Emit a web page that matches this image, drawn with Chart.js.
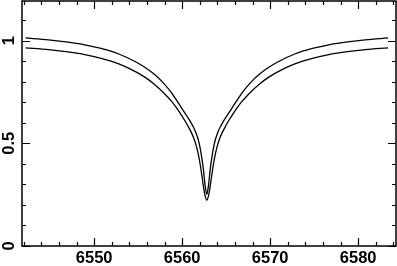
<!DOCTYPE html>
<html><head><meta charset="utf-8">
<script src="https://cdn.jsdelivr.net/npm/chart.js@4/dist/chart.umd.min.js"></script>
<style>html,body{margin:0;padding:0;background:#fff;} canvas{display:block}</style>
</head><body>
<canvas id="c" width="397" height="266"></canvas>
<script>
// Wavelength samples (Angstrom)
const wavelength = [6542.2, 6544.8, 6546.8, 6548.8, 6550.8, 6552.8, 6554.8, 6555.8, 6556.8, 6557.8,
  6558.8, 6559.3, 6559.8, 6560.3, 6560.8, 6561.05, 6561.3, 6561.55, 6561.8, 6562.0, 6562.2, 6562.4, 6562.6,
  6562.8,
  6563.0, 6563.2, 6563.4, 6563.6, 6563.8, 6564.05, 6564.3, 6564.55, 6564.8, 6565.3, 6565.8, 6566.3, 6566.8,
  6567.8, 6568.8, 6569.8, 6570.8, 6572.8, 6574.8, 6576.8, 6578.8, 6580.8, 6583.4];
// Lower / outer profile
const fluxLower = [0.965, 0.956, 0.946, 0.933, 0.914, 0.887, 0.847, 0.821, 0.789, 0.750,
  0.704, 0.676, 0.645, 0.611, 0.573, 0.552, 0.527, 0.496, 0.453, 0.409, 0.355, 0.295, 0.245,
  0.223,
  0.245, 0.295, 0.355, 0.409, 0.453, 0.496, 0.527, 0.552, 0.573, 0.611, 0.645, 0.676, 0.704,
  0.750, 0.789, 0.821, 0.847, 0.887, 0.914, 0.933, 0.946, 0.956, 0.965];
// Upper / inner profile
const fluxUpper = [1.013, 1.004, 0.994, 0.981, 0.962, 0.935, 0.895, 0.869, 0.837, 0.797,
  0.746, 0.714, 0.681, 0.648, 0.615, 0.597, 0.577, 0.553, 0.522, 0.486, 0.438, 0.378, 0.298,
  0.252,
  0.298, 0.378, 0.438, 0.486, 0.522, 0.553, 0.577, 0.597, 0.615, 0.648, 0.681, 0.714, 0.746,
  0.797, 0.837, 0.869, 0.895, 0.935, 0.962, 0.981, 0.994, 1.004, 1.013];
const xTickLabels = [6550, 6560, 6570, 6580];
const yTickLabels = [0, 0.5, 1];
const xMinorStep = 2;
const yMinorStep = 0.1;

const tickFont = {family: "'Liberation Sans', Arial, Helvetica, sans-serif", size: 16.5, weight: 'bold'};

const frameTicks = {
  id: 'frameTicks',
  afterDraw(chart) {
    const {ctx, chartArea: a, scales: {x, y}} = chart;
    ctx.save();
    ctx.strokeStyle = '#000';
    ctx.lineWidth = 1.2;
    ctx.beginPath();
    const nx0 = Math.ceil(x.min / xMinorStep), nx1 = Math.floor(x.max / xMinorStep);
    for (let i = nx0; i <= nx1; i++) {
      const v = i * xMinorStep;
      const L = xTickLabels.includes(v) ? 8 : 4;
      const px = Math.round(x.getPixelForValue(v)) + 0.5;
      ctx.moveTo(px, a.bottom); ctx.lineTo(px, a.bottom - L);
      ctx.moveTo(px, a.top); ctx.lineTo(px, a.top + L);
    }
    const ny1 = Math.floor(y.max / yMinorStep + 1e-6);
    for (let i = 0; i <= ny1; i++) {
      const v = i * yMinorStep;
      const L = (i % 5 === 0) ? 8 : 4;
      const py = Math.round(y.getPixelForValue(v)) + 0.5;
      ctx.moveTo(a.left, py); ctx.lineTo(a.left + L, py);
      ctx.moveTo(a.right, py); ctx.lineTo(a.right - L, py);
    }
    ctx.stroke();
    ctx.lineWidth = 1.5;
    ctx.strokeRect(a.left, a.top, a.right - a.left, a.bottom - a.top);
    ctx.restore();
  }
};

new Chart(document.getElementById('c'), {
  type: 'line',
  data: {
    datasets: [
      {data: wavelength.map((w, i) => ({x: w, y: fluxUpper[i]}))},
      {data: wavelength.map((w, i) => ({x: w, y: fluxLower[i]}))}
    ]
  },
  options: {
    responsive: false,
    animation: false,
    devicePixelRatio: 1,
    layout: {padding: {top: 1, right: 1, left: 0, bottom: 0}},
    plugins: {legend: {display: false}, tooltip: {enabled: false}},
    elements: {
      point: {radius: 0},
      line: {borderWidth: 1.3, borderColor: '#000', fill: false, cubicInterpolationMode: 'monotone'}
    },
    scales: {
      x: {
        type: 'linear', min: 6541.8, max: 6584.3,
        grid: {display: false, drawTicks: false},
        border: {display: false},
        afterBuildTicks: s => { s.ticks = xTickLabels.map(v => ({value: v})); },
        afterFit: s => { s.height = 20; s.paddingLeft = 0; s.paddingRight = 0; },
        ticks: {autoSkip: false, minRotation: 0, maxRotation: 0, padding: 3, color: '#000', font: tickFont,
          callback: v => String(v)}
      },
      y: {
        type: 'linear', min: 0, max: 1.193,
        grid: {display: false, drawTicks: false},
        border: {display: false},
        afterBuildTicks: s => { s.ticks = yTickLabels.map(v => ({value: v})); },
        afterFit: s => { s.width = 22; s.paddingTop = 0; s.paddingBottom = 0; },
        ticks: {autoSkip: false, minRotation: 90, maxRotation: 90, crossAlign: 'center', padding: 1,
          color: '#000', font: tickFont, callback: v => String(v)}
      }
    }
  },
  plugins: [frameTicks]
});
</script>
</body></html>
